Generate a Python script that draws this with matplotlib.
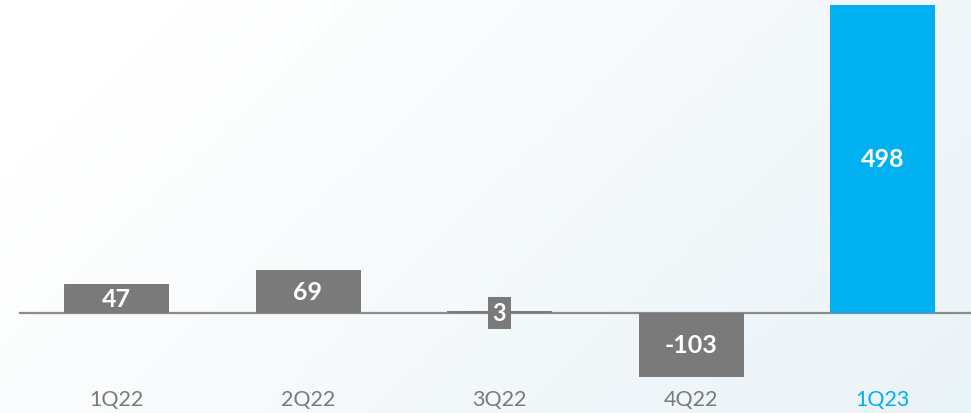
import numpy as np
import matplotlib.pyplot as plt
import matplotlib.transforms as mtransforms
from matplotlib.colors import LinearSegmentedColormap

# Data
quarters = ['1Q22', '2Q22', '3Q22', '4Q22', '1Q23']
values = [47, 69, 3, -103, 498]
bar_colors = ['#7a7a7a', '#7a7a7a', '#7a7a7a', '#7a7a7a', '#00b0f0']
tick_colors = ['#7a7a7a', '#7a7a7a', '#7a7a7a', '#7a7a7a', '#00b0f0']

W, H = 971, 414
fig = plt.figure(figsize=(W / 100, H / 100), dpi=100)

# soft background gradient (white top-left -> pale blue bottom-right)
bg = fig.add_axes([0, 0, 1, 1], zorder=0)
gx, gy = np.meshgrid(np.linspace(0, 1, 200), np.linspace(0, 1, 100))
grad = np.clip(0.8 * gx + 0.35 * gy - 0.15, 0, 1)
cmap = LinearSegmentedColormap.from_list('bg', ['#ffffff', '#eaf3f7'])
bg.imshow(grad, cmap=cmap, aspect='auto', extent=[0, 1, 0, 1], origin='upper')
bg.axis('off')

# main axes: bottom at the -103 bar's end
ax = fig.add_axes([0, 36 / H, 1, 378 / H], zorder=1)
ax.patch.set_alpha(0)

x = np.arange(len(quarters))
px_per_unit = 308 / 498
ymin = -64 / px_per_unit
ymax = ymin + 378 / px_per_unit
step = 191.5
ax.set_xlim(-116.5 / step, (W - 116.5) / step)
ax.set_ylim(ymin, ymax)

ax.bar(x, values, width=105 / step, color=bar_colors, zorder=3)

# baseline
ax.plot([-96.5 / step, (W - 116.5) / step], [0, 0], color='#8c8c8c', lw=1.6, zorder=2)

for xi, v in zip(x, values):
    if abs(v) < 20:
        # tiny bar: label sits in a small box on the baseline
        ax.text(xi, 0, str(v), ha='center', va='center', color='white',
                fontsize=17, fontweight='bold', family='Lato', zorder=5,
                bbox=dict(boxstyle='square,pad=0.2', fc='#7a7a7a', ec='none'))
    else:
        ax.text(xi, v / 2, str(v), ha='center', va='center', color='white',
                fontsize=18, fontweight='bold', family='Lato', zorder=5)

# category labels under the chart
trans = mtransforms.blended_transform_factory(ax.transData, fig.transFigure)
for xi, q, c in zip(x, quarters, tick_colors):
    ax.text(xi, 14 / H, q, ha='center', va='center', color=c,
            fontsize=15.5, family='Lato', transform=trans, clip_on=False)

ax.set_xticks([])
ax.set_yticks([])
for s in ax.spines.values():
    s.set_visible(False)

fig.savefig('out.png', dpi=100)
